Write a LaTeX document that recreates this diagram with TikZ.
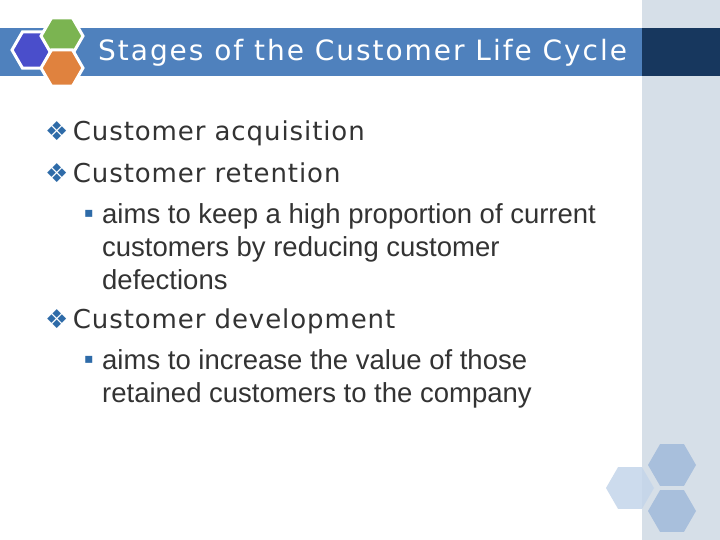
\documentclass[tikz,border=0pt]{standalone}
\usepackage{fontspec}
\setmainfont{Liberation Sans}
\newfontfamily\dv{DejaVu Sans}
\newfontfamily\dvh[LetterSpace=3.5]{DejaVu Sans}
\newfontfamily\dvt[LetterSpace=7]{DejaVu Sans}
\definecolor{panel}{HTML}{D6DFE8}
\definecolor{bar}{HTML}{4F81BD}
\definecolor{navy}{HTML}{17375E}
\definecolor{hexblue}{HTML}{4A4ECB}
\definecolor{hexgreen}{HTML}{7BB451}
\definecolor{hexorange}{HTML}{E0823E}
\definecolor{hexa}{HTML}{A8BFDC}
\definecolor{hexb}{HTML}{C4D5EA}
\definecolor{bul}{HTML}{2E6BA8}
\definecolor{txt}{HTML}{333333}
\tikzset{
  head/.style={anchor=west,text=txt,font=\dvh\fontsize{26bp}{30bp}\selectfont,inner sep=0},
  sub/.style={anchor=west,text=txt,font=\fontsize{27.5bp}{33bp}\selectfont,inner sep=0,align=left},
  hexw/.style={draw=white,line width=3bp,line join=miter},
}
\newcommand\hexg[4]{% cx cy r style
  \path[#4] (#1-#3,#2) -- (#1-#3/2,#2-0.866*#3) -- (#1+#3/2,#2-0.866*#3) -- (#1+#3,#2) -- (#1+#3/2,#2+0.866*#3) -- (#1-#3/2,#2+0.866*#3) -- cycle;}
\begin{document}
\begin{tikzpicture}[x=1bp,y=-1bp]
\useasboundingbox (0,0) rectangle (720,540);
\fill[white] (0,0) rectangle (720,540);
\fill[panel] (642,0) rectangle (720,540);
\fill[bar] (0,28) rectangle (642,76);
\fill[navy] (642,28) rectangle (720,76);
\hexg{33}{50}{21}{hexw,fill=hexblue}
\hexg{62}{36}{21}{hexw,fill=hexgreen}
\hexg{62}{68}{21}{hexw,fill=hexorange}
\node[anchor=west,text=white,font=\dvt\fontsize{28bp}{30bp}\selectfont,inner sep=0] (title) at (98,53) {Stages of the Customer Life Cycle};
\hexg{672}{465}{24}{fill=hexa}
\hexg{672}{511}{24}{fill=hexa}
\hexg{630}{488}{24}{fill=hexb,opacity=0.85}
\node[head] (b1) at (45,133) {\textcolor{bul}{❖}\,Customer acquisition};
\node[head] (b2) at (45,173) {\textcolor{bul}{❖}\,Customer retention};
\node[anchor=west,text=bul,font=\dv\fontsize{14bp}{14bp}\selectfont,inner sep=0] (s1) at (84,214) {▪};
\node[sub,anchor=north west] (t1) at (102,203) {aims to keep a high proportion of current\\customers by reducing customer\\defections};
\node[head] (b3) at (45,321) {\textcolor{bul}{❖}\,Customer development};
\node[anchor=west,text=bul,font=\dv\fontsize{14bp}{14bp}\selectfont,inner sep=0] (s2) at (84,360) {▪};
\node[sub,anchor=north west] (t2) at (102,349) {aims to increase the value of those\\retained customers to the company};
\end{tikzpicture}
\end{document}
